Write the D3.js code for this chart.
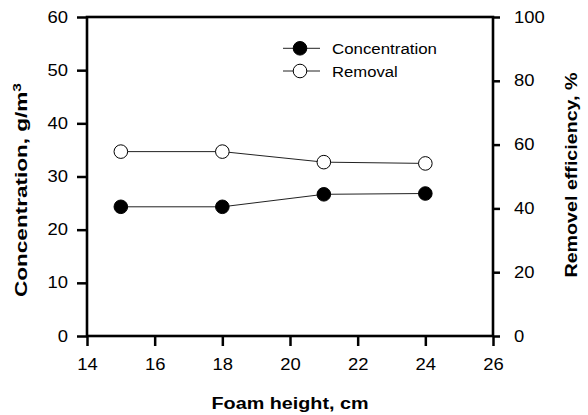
<!DOCTYPE html>
<html><head><meta charset="utf-8">
<script src="https://cdn.jsdelivr.net/npm/d3@7"></script>
<style>body{margin:0;background:#fff}svg{display:block}</style>
</head><body>
<svg id="c" width="588" height="415"></svg>
<script>
const foamHeight = [15, 18, 21, 24];
const concentration = [24.3, 24.3, 26.65, 26.8];
const removal = [57.8, 57.8, 54.5, 54.1];
const xTicks = [14, 16, 18, 20, 22, 24, 26];
const yLeftTicks = [0, 10, 20, 30, 40, 50, 60];
const yRightTicks = [0, 20, 40, 60, 80, 100];
const legendLabels = ["Concentration", "Removal"];

const svg = d3.select("#c");
const L = 87, R = 493, T = 17, B = 336;
const x = d3.scaleLinear().domain([14, 26]).range([L, R]);
const yL = d3.scaleLinear().domain([0, 60]).range([B, T]);
const yR = d3.scaleLinear().domain([0, 100]).range([B, T]);
const font = "'Liberation Sans', Arial, sans-serif";

function stretch(sel, k) {
  sel.each(function () {
    const l = this.getComputedTextLength();
    d3.select(this).attr("textLength", l * k).attr("lengthAdjust", "spacingAndGlyphs");
  });
}

// axes
const gx = svg.append("g").attr("transform", `translate(0,${B})`)
  .call(d3.axisBottom(x).tickValues(xTicks).tickSize(10).tickPadding(13).tickFormat(d3.format("d")));
const gl = svg.append("g").attr("transform", `translate(${L},0)`)
  .call(d3.axisLeft(yL).tickValues(yLeftTicks).tickSize(10).tickPadding(9).tickFormat(d3.format("d")));
const gr = svg.append("g").attr("transform", `translate(${R},0)`)
  .call(d3.axisRight(yR).tickValues(yRightTicks).tickSize(7).tickPadding(14).tickFormat(d3.format("d")));
[gx, gl, gr].forEach(g => {
  g.select(".domain").remove();
  g.selectAll(".tick line").attr("stroke", "#000").attr("stroke-width", 2.5);
  g.selectAll(".tick text").attr("fill", "#000").style("font-family", font).style("font-size", "16px").call(stretch, 1.15);
});
// frame
svg.append("rect").attr("x", L).attr("y", T).attr("width", R - L).attr("height", B - T)
  .attr("fill", "none").attr("stroke", "#000").attr("stroke-width", 2.6);

// lines
const lineC = d3.line().x((d, i) => x(foamHeight[i])).y(d => yL(d));
const lineR = d3.line().x((d, i) => x(foamHeight[i])).y(d => yR(d));
svg.append("path").attr("d", lineC(concentration)).attr("fill", "none").attr("stroke", "#222").attr("stroke-width", 1);
svg.append("path").attr("d", lineR(removal)).attr("fill", "none").attr("stroke", "#222").attr("stroke-width", 1);
svg.selectAll("circle.c").data(concentration).join("circle")
  .attr("cx", (d, i) => x(foamHeight[i])).attr("cy", d => yL(d)).attr("r", 6.8)
  .attr("fill", "#000").attr("stroke", "#000").attr("stroke-width", 1);
svg.selectAll("circle.r").data(removal).join("circle")
  .attr("cx", (d, i) => x(foamHeight[i])).attr("cy", d => yR(d)).attr("r", 6.8)
  .attr("fill", "#fff").attr("stroke", "#000").attr("stroke-width", 1);

// legend
const legY = [48.3, 71];
legendLabels.forEach((lab, i) => {
  const g = svg.append("g");
  g.append("line").attr("x1", 283).attr("x2", 320).attr("y1", legY[i]).attr("y2", legY[i]).attr("stroke", "#222").attr("stroke-width", 1);
  g.append("circle").attr("cx", 300).attr("cy", legY[i]).attr("r", 6.8)
    .attr("fill", i === 0 ? "#000" : "#fff").attr("stroke", "#000").attr("stroke-width", 1);
  const t = g.append("text").attr("x", 332).attr("y", legY[i] + 5.5).text(lab)
    .style("font-family", font).style("font-size", "15.5px").attr("fill", "#000");
  t.attr("textLength", i === 0 ? 105 : 65.7).attr("lengthAdjust", "spacingAndGlyphs");
});

// titles
svg.append("text").attr("x", 290).attr("y", 409).attr("text-anchor", "middle")
  .style("font-family", font).style("font-size", "16px").style("font-weight", "bold")
  .attr("textLength", 157).attr("lengthAdjust", "spacingAndGlyphs").text("Foam height, cm");

const tl = svg.append("text").attr("transform", "translate(27,190) rotate(-90)").attr("text-anchor", "middle")
  .style("font-family", font).style("font-size", "16px").style("font-weight", "bold");
tl.append("tspan").text("Concentration, g/m");
tl.append("tspan").attr("dy", -6).style("font-size", "11px").text("3");

svg.append("text").attr("transform", "translate(577,175) rotate(-90)").attr("text-anchor", "middle")
  .style("font-family", font).style("font-size", "16px").style("font-weight", "bold")
  .attr("textLength", 205).attr("lengthAdjust", "spacingAndGlyphs").text("Removel efficiency, %");

// stretch left title
(function(){
  const n = tl.node();
  const l = n.getComputedTextLength();
  tl.attr("textLength", 214).attr("lengthAdjust", "spacingAndGlyphs");
})();
</script>
</body></html>
